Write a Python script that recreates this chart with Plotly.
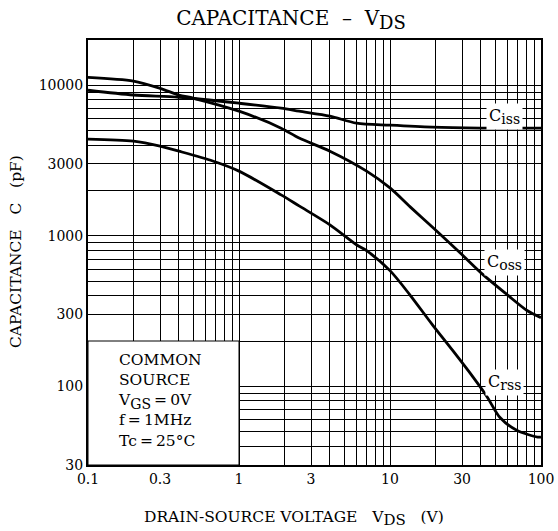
import math
import plotly.graph_objects as go

# ---- data ----
vds_ciss = [0.1, 0.2, 0.4, 1.0, 1.9, 2.5, 4.0, 6.0, 10, 19, 40, 100]
ciss = [9270, 8620, 8330, 7600, 7050, 6730, 6240, 5600, 5430, 5270, 5200, 5190]

vds_coss = [0.1, 0.2, 0.3, 0.4, 0.5, 1.0, 1.9, 2.5, 4.0, 7.0, 10, 13.6, 19.3, 29.1, 41.3, 59.6, 80.8, 100]
coss = [11300, 10670, 9550, 8620, 8200, 6730, 5190, 4460, 3650, 2690, 2080, 1556, 1130, 771, 552, 407, 319, 286]

vds_crss = [0.1, 0.2, 0.3, 0.4, 0.67, 1.0, 1.9, 2.5, 4.0, 6.0, 7.0, 10, 13.5, 19, 26, 35.5, 44, 53.5, 69, 95, 100]
crss = [4390, 4250, 3940, 3650, 3140, 2690, 1870, 1580, 1183, 872, 796, 587, 407, 258, 173, 115, 85, 62, 51, 46, 46]

x_labels = ["0.1", "0.3", "1", "3", "10", "30", "100"]
x_label_vals = [0.1, 0.3, 1, 3, 10, 30, 100]
y_labels = ["30", "100", "300", "1000", "3000", "10000"]
y_label_vals = [30, 100, 300, 1000, 3000, 10000]

FONT = "DejaVu Serif"


def grid_values(lo_exp, hi_exp, vmin, vmax):
    vals = []
    for e in range(lo_exp, hi_exp + 1):
        for m in range(1, 10):
            v = round(m * 10 ** e, 6)
            if vmin - 1e-9 <= v <= vmax + 1e-9:
                vals.append(v)
    return vals


x_grid = grid_values(-1, 2, 0.1, 100)
y_grid = grid_values(1, 4, 30, 20000)


def make_text(vals, lab_vals, labs):
    out = []
    for v in vals:
        t = ""
        for lv, lb in zip(lab_vals, labs):
            if abs(v - lv) < 1e-9:
                t = lb
        out.append(t)
    return out


def sub(s, size):
    return "<sub><span style='font-size:%dpx'>%s</span></sub>" % (size, s)


fig = go.Figure()
line_style = dict(color="black", width=2.8, shape="spline", smoothing=0.8)
for xs, ys, nm in [(vds_ciss, ciss, "Ciss"), (vds_coss, coss, "Coss"), (vds_crss, crss, "Crss")]:
    fig.add_trace(go.Scatter(x=xs, y=ys, mode="lines", line=line_style, name=nm,
                             showlegend=False, hoverinfo="skip"))

axis_common = dict(type="log", showgrid=True, gridcolor="black", gridwidth=1,
                   showline=True, linecolor="black", linewidth=2, mirror=True,
                   ticks="", tickfont=dict(family=FONT, size=14, color="black"),
                   zeroline=False, automargin=False)
fig.update_xaxes(range=[-1, 2], tickvals=x_grid,
                 ticktext=make_text(x_grid, x_label_vals, x_labels), **axis_common)
fig.update_yaxes(range=[1.4771, 4.3010], tickvals=y_grid,
                 ticktext=make_text(y_grid, y_label_vals, y_labels), **axis_common)

# condition box in lower-left
fig.add_shape(type="rect", xref="x", yref="y", x0=0.1, x1=1, y0=30, y1=200,
              fillcolor="white", line=dict(color="black", width=1), layer="between")
fig.add_annotation(xref="x", yref="y", x=-0.815, y=1.905, xanchor="left", yanchor="middle",
                   text="COMMON<br>SOURCE<br>V" + sub("GS", 14) + "\u2009=\u20090V<br>f\u2009=\u20091MHz<br>Tc\u2009=\u200925°C",
                   align="left", showarrow=False,
                   font=dict(family=FONT, size=15.5, color="black"))

labels = [("C" + sub("iss", 14), 57, 6240), ("C" + sub("oss", 14), 57, 662), ("C" + sub("rss", 14), 57, 106)]
for txt, lx, ly in labels:
    fig.add_annotation(xref="x", yref="y", x=math.log10(lx), y=math.log10(ly), text=txt,
                       showarrow=False, bgcolor="white", borderpad=2,
                       font=dict(family=FONT, size=16, color="black"))

W, H = 558, 531
fig.update_layout(
    width=W, height=H,
    margin=dict(l=88, r=17, t=40, b=66, autoexpand=False),
    paper_bgcolor="white", plot_bgcolor="white",
    hovermode=False,
    title=dict(text="CAPACITANCE \u00a0\u2013\u00a0 V" + sub("DS", 18), x=291 / W, xanchor="center",
               y=1 - 18 / H, yanchor="middle", yref="container",
               font=dict(family=FONT, size=20, color="black")),
)
# axis titles as annotations
fig.add_annotation(xref="paper", yref="paper", x=(294 - 88) / 453, y=(465 - 518) / 425,
                   text="DRAIN-SOURCE VOLTAGE \u00a0\u00a0V" + sub("DS", 15) + "\u00a0\u00a0\u00a0(V)",
                   showarrow=False, xanchor="center", yanchor="middle",
                   font=dict(family=FONT, size=15.5, color="black"))
fig.add_annotation(xref="paper", yref="paper", x=(16 - 88) / 453, y=(465 - 252) / 425,
                   text="CAPACITANCE \u00a0\u00a0C\u00a0\u00a0 (pF)", textangle=-90,
                   showarrow=False, xanchor="center", yanchor="middle",
                   font=dict(family=FONT, size=15.5, color="black"))

fig.write_html("out.html", config={"displayModeBar": False, "staticPlot": True},
               post_script="document.body.style.margin='0';document.body.style.overflow='hidden';")
